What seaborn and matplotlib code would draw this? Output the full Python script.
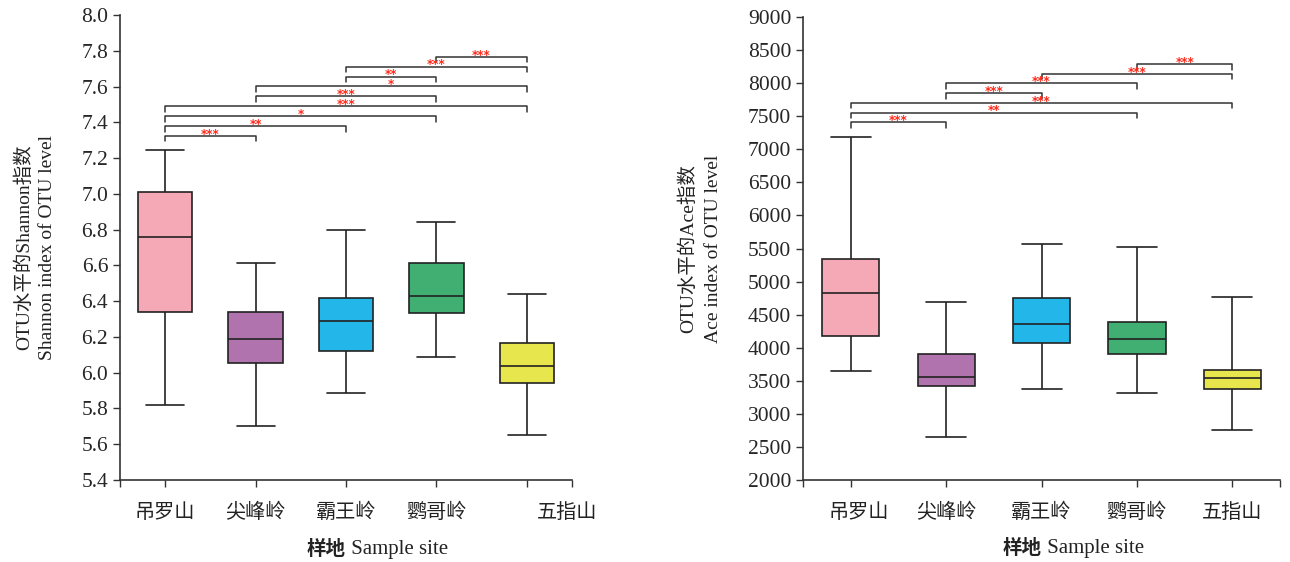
import matplotlib
matplotlib.use('Agg')
import matplotlib.pyplot as plt
import seaborn as sns
import pandas as pd

sites = ['吊罗山', '尖峰岭', '霸王岭', '鹦哥岭', '五指山']
colors = ['#F5A8B5', '#B073AE', '#23B6E8', '#41AE72', '#E8E64D']

# five-number summaries (min, q1, median, q3, max)
shannon_min = [5.82, 5.70, 5.885, 6.09, 5.65]
shannon_q1 = [6.34, 6.056, 6.123, 6.336, 5.944]
shannon_med = [6.76, 6.187, 6.287, 6.431, 6.039]
shannon_q3 = [7.01, 6.338, 6.419, 6.615, 6.164]
shannon_max = [7.245, 6.615, 6.80, 6.843, 6.442]

ace_min = [3650, 2647, 3374, 3313, 2753]
ace_q1 = [4172, 3415, 4076, 3909, 3374]
ace_med = [4834, 3561, 4364, 4127, 3536]
ace_q3 = [5344, 3899, 4748, 4394, 3667]
ace_max = [7182, 4697, 5561, 5530, 4763]

# significance pairs, bottom to top
shannon_sig = [(0, 1, '***'), (0, 2, '**'), (0, 3, '*'), (0, 4, '***'), (1, 3, '***'),
               (1, 4, '*'), (2, 3, '**'), (2, 4, '***'), (3, 4, '***')]
ace_sig = [(0, 1, '***'), (0, 3, '**'), (0, 4, '***'), (1, 2, '***'), (1, 3, '***'),
           (2, 4, '***'), (3, 4, '***')]


def to_long(mins, q1s, meds, q3s, maxs):
    rows = []
    for i, s in enumerate(sites):
        for v in (mins[i], q1s[i], meds[i], q3s[i], maxs[i]):
            rows.append({'site': s, 'value': v})
    return pd.DataFrame(rows)


df_shannon = to_long(shannon_min, shannon_q1, shannon_med, shannon_q3, shannon_max)
df_ace = to_long(ace_min, ace_q1, ace_med, ace_q3, ace_max)

sns.set_style('white')
plt.rcParams['font.family'] = ['Liberation Serif', 'Noto Sans CJK SC']
plt.rcParams['axes.edgecolor'] = '#333333'
plt.rcParams['axes.linewidth'] = 1.2

fig = plt.figure(figsize=(12.9, 5.62), dpi=100)
ax1 = fig.add_axes([0.093, 0.1459, 0.3504, 0.8274])
ax2 = fig.add_axes([0.6225, 0.1459, 0.3698, 0.8238])


def draw(ax, df, sig, ylim, yticks, base, step, tick_h, ylab1, ylab2, label_pos, ylab_x):
    sns.boxplot(data=df, x='site', y='value', hue='site', palette=colors, legend=False,
                width=0.6, whis=(0, 100), linecolor='#222222', linewidth=1.2,
                saturation=1, capwidths=0.42, ax=ax)
    ax.set_xlim(-0.5, 4.5)
    ax.set_ylim(*ylim)
    ax.set_yticks(yticks)
    sns.despine(ax=ax)
    ax.tick_params(axis='y', direction='out', length=5, width=1.0, color='#333333',
                   labelsize=15.5, left=True)
    ax.set_xticks([-0.5, 0, 1, 2, 3, 4, 4.5])
    ax.set_xticklabels([])
    ax.tick_params(axis='x', direction='out', length=5, width=1.0, color='#333333', bottom=True)
    for p, s in zip(label_pos, sites):
        ax.text(p, -0.047, s, transform=ax.get_xaxis_transform(), ha='center', va='top',
                fontsize=14.5, family='Noto Sans CJK SC', color='#222222')
    ax.set_xlabel('')
    ax.text(0.5, -0.128, '样地', transform=ax.transAxes, ha='right', va='top',
            fontsize=14, family='Noto Sans CJK SC', fontweight='bold', color='#222222')
    ax.text(0.5, -0.128, ' Sample site', transform=ax.transAxes, ha='left', va='top',
            fontsize=15, color='#222222')
    ax.set_ylabel('')
    ax.text(ylab_x[0], 0.5, ylab1, transform=ax.transAxes, rotation=90, ha='center',
            va='center', fontsize=14, color='#222222')
    ax.text(ylab_x[1], 0.5, ylab2, transform=ax.transAxes, rotation=90, ha='center',
            va='center', fontsize=14, color='#222222')
    for i, (a, b, t) in enumerate(sig):
        y = base + step * i
        ax.plot([a, a, b, b], [y - tick_h, y, y, y - tick_h], color='#333333', lw=1.1,
                clip_on=False)
        ax.annotate(t, xy=((a + b) / 2, y), xytext=(0, -3.5), textcoords='offset points',
                    ha='center', va='bottom', fontsize=8.5, color='#FF2A1A',
                    family='DejaVu Sans', fontweight='bold')


draw(ax1, df_shannon, shannon_sig, (5.4, 8.0), [5.4 + 0.2 * k for k in range(14)],
     7.323, 0.0555, 0.03, 'OTU水平的Shannon指数', 'Shannon index of OTU level',
     [0, 1, 2, 3, 4.45], (-0.213, -0.16))
ax1.set_yticklabels(['%.1f' % (5.4 + 0.2 * k) for k in range(14)])

draw(ax2, df_ace, ace_sig, (2000, 9000), list(range(2000, 9001, 500)),
     7409, 147, 85, 'OTU水平的Ace指数', 'Ace index of OTU level',
     [0.08, 1, 2, 3, 4], (-0.242, -0.188))

plt.savefig('out.png', dpi=100)
